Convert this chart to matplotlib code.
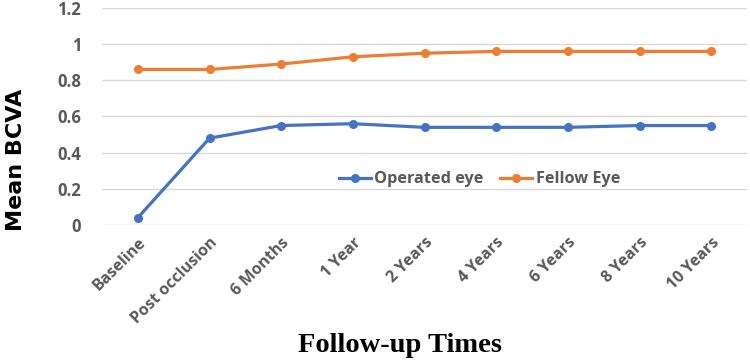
import matplotlib
matplotlib.use("Agg")
import matplotlib.pyplot as plt

categories = ["Baseline", "Post occlusion", "6 Months", "1 Year", "2 Years",
              "4 Years", "6 Years", "8 Years", "10 Years"]
operated = [0.04, 0.48, 0.55, 0.56, 0.54, 0.54, 0.54, 0.55, 0.55]
fellow = [0.86, 0.86, 0.89, 0.93, 0.95, 0.96, 0.96, 0.96, 0.96]
yticks = [0, 0.2, 0.4, 0.6, 0.8, 1, 1.2]
ytick_labels = ["0", "0.2", "0.4", "0.6", "0.8", "1", "1.2"]

fig = plt.figure(figsize=(7.5, 3.64), dpi=100)
ax = fig.add_axes([0.136, 0.382, 0.860, 0.596])

x = list(range(len(categories)))
ax.plot(x, operated, color="#4472C4", lw=2.3, marker="o", ms=5.5, label="Operated eye")
ax.plot(x, fellow, color="#ED7D31", lw=2.3, marker="o", ms=5.5, label="Fellow Eye")

ax.set_xlim(-0.5, len(categories) - 0.5)
ax.set_ylim(0, 1.2)
ax.set_yticks(yticks)
ax.set_yticklabels(ytick_labels, fontsize=12, fontweight="bold", color="#595959",
                   family="Open Sans")
ax.set_xticks(x)
ax.set_xticklabels(categories, rotation=45, ha="right", rotation_mode="anchor",
                   fontsize=11.5, fontweight="bold", color="#595959", family="Open Sans")
ax.tick_params(axis="y", length=0, pad=15)
ax.tick_params(axis="x", length=0, pad=7)
ax.grid(axis="y", color="#D9D9D9", lw=1)
ax.set_axisbelow(True)
for s in ax.spines.values():
    s.set_visible(False)

fig.text(0.021, 0.56, "Mean BCVA", rotation=90, ha="center", va="center",
         fontsize=16, fontweight="bold", family="DejaVu Sans", color="black")
fig.text(0.533, 0.05, "Follow-up Times", ha="center", va="center",
         fontsize=20.5, fontweight="bold", family="Liberation Serif", color="black")

leg = ax.legend(loc="center", bbox_to_anchor=(0.585, 0.21), ncol=2, frameon=False,
                prop={"family": "Open Sans", "weight": "bold", "size": 11.7},
                handlelength=2.0, handletextpad=0.2, columnspacing=1.0)
for t in leg.get_texts():
    t.set_color("#595959")

fig.savefig("out.png", dpi=100)
